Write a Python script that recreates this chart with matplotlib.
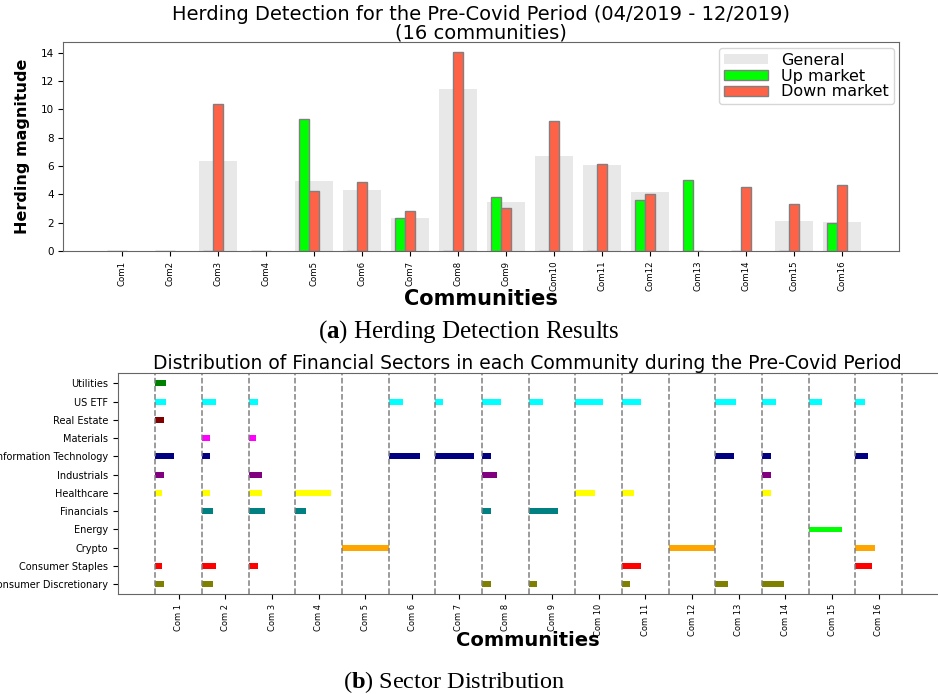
import numpy as np
import matplotlib
matplotlib.use("Agg")
import matplotlib.pyplot as plt

plt.rcParams['font.family'] = ['DejaVu Sans']
plt.rcParams['mathtext.fontset'] = 'custom'
plt.rcParams['mathtext.rm'] = 'Liberation Serif'
plt.rcParams['mathtext.bf'] = 'Liberation Serif:bold'

# ---- (a) herding magnitudes per community ----
communities = ['Com%d' % i for i in range(1, 17)]
general = [0, 0, 6.34, 0, 4.98, 4.30, 2.35, 11.46, 3.43, 6.71, 6.10, 4.20, 0, 0, 2.09, 2.02]
up_market = [0, 0, 0, 0, 9.32, 0, 2.30, 0, 3.83, 0, 0, 3.61, 5.02, 0, 0, 1.95]
down_market = [0, 0, 10.42, 0, 4.23, 4.91, 2.82, 14.04, 3.05, 9.20, 6.15, 4.06, 0, 4.55, 3.33, 4.69]

# ---- (b) sector share per community (Com 1 .. Com 16) ----
sectors = ['Consumer Discretionary', 'Consumer Staples', 'Crypto', 'Energy', 'Financials',
           'Healthcare', 'Industrials', 'Information Technology', 'Materials', 'Real Estate',
           'US ETF', 'Utilities']
sector_colors = ['olive', 'red', 'orange', 'lime', 'teal', 'yellow', 'purple', 'navy',
                 'magenta', 'maroon', 'cyan', 'green']

cons_disc = [0.19, 0.24, 0, 0, 0, 0, 0, 0.20, 0.18, 0, 0.16, 0, 0.28, 0.46, 0, 0]
cons_staples = [0.15, 0.29, 0.20, 0, 0, 0, 0, 0, 0, 0, 0.41, 0, 0, 0, 0, 0.35]
crypto = [0, 0, 0, 0, 1.0, 0, 0, 0, 0, 0, 0, 1.0, 0, 0, 0, 0.42]
energy = [0, 0, 0, 0, 0, 0, 0, 0, 0, 0, 0, 0, 0, 0, 0.71, 0]
financials = [0, 0.24, 0.34, 0.22, 0, 0, 0, 0.20, 0.63, 0, 0, 0, 0, 0, 0, 0]
healthcare = [0.15, 0.18, 0.29, 0.76, 0, 0, 0, 0, 0, 0.41, 0.26, 0, 0, 0.20, 0, 0]
industrials = [0.19, 0, 0.29, 0, 0, 0, 0, 0.33, 0, 0, 0, 0, 0, 0.20, 0, 0]
info_tech = [0.39, 0.18, 0, 0, 0, 0.68, 0.82, 0.19, 0, 0, 0, 0, 0.40, 0.20, 0, 0.27]
materials = [0, 0.18, 0.16, 0, 0, 0, 0, 0, 0, 0, 0, 0, 0, 0, 0, 0]
real_estate = [0.19, 0, 0, 0, 0, 0, 0, 0, 0, 0, 0, 0, 0, 0, 0, 0]
us_etf = [0.22, 0.29, 0.20, 0, 0, 0.31, 0.17, 0.41, 0.31, 0.59, 0.41, 0, 0.44, 0.29, 0.28, 0.20]
utilities = [0.22, 0, 0, 0, 0, 0, 0, 0, 0, 0, 0, 0, 0, 0, 0, 0]

sector_values = [cons_disc, cons_staples, crypto, energy, financials, healthcare,
                 industrials, info_tech, materials, real_estate, us_etf, utilities]
com_labels = ['Com %d' % i for i in range(1, 17)]

fig = plt.figure(figsize=(9.38, 6.94), dpi=100)

# Plot (a): herding detection
ax1 = fig.add_axes([0.0675, 0.6383, 0.8913, 0.3007])
x = np.arange(len(communities))
ax1.bar(x, general, 0.8, color='lightgray', alpha=0.5, label='General')
ax1.bar(x - 0.2, up_market, 0.2, color='lime', edgecolor='grey', label='Up market')
ax1.bar(x, down_market, 0.2, color='tomato', edgecolor='grey', label='Down market')
ax1.set_xlim(-1.22, 16.2)
ax1.set_xticks(x)
ax1.set_xticklabels(communities, rotation=90, fontsize=6.2)
ax1.tick_params(axis='y', labelsize=7.5)
ax1.set_ylabel('Herding magnitude', fontsize=11.5, fontweight='bold')
ax1.yaxis.set_label_coords(-0.04, 0.5)
ax1.set_xlabel('Communities', fontsize=15, fontweight='bold')
ax1.xaxis.set_label_coords(0.5, -0.18)
ax1.set_title('Herding Detection for the Pre-Covid Period (04/2019 - 12/2019)\n(16 communities)',
              fontsize=14, pad=3, linespacing=0.95)
ax1.legend(loc='upper right', fontsize=11.5, handlelength=2.8, labelspacing=0.05,
           borderpad=0.3, handleheight=0.6, borderaxespad=0.35)
for s in ax1.spines.values():
    s.set_color('#666666')

# Plot (b): sector distribution
ax2 = fig.add_axes([0.1255, 0.1437, 0.8745, 0.3184])
for row, (vals, col) in enumerate(zip(sector_values, sector_colors)):
    for i, v in enumerate(vals):
        if v > 0:
            ax2.barh(row, v, height=0.32, left=i + 0.5, color=col)
for i in range(17):
    ax2.axvline(i + 0.5, color='grey', linestyle='--', linewidth=1.1)
ax2.set_yticks(range(len(sectors)))
ax2.set_yticklabels(sectors, fontsize=7)
ax2.set_xticks(range(1, 17))
ax2.set_xticklabels(com_labels, rotation=90, fontsize=6)
ax2.set_xlim(-0.306, 17.27)
ax2.set_ylim(-0.55, 11.55)
ax2.set_xlabel('Communities', fontsize=14, fontweight='bold')
ax2.xaxis.set_label_coords(0.5, -0.168)
ax2.set_title('Distribution of Financial Sectors in each Community during the Pre-Covid Period',
              fontsize=13.5, pad=3)
ax2.spines['right'].set_visible(False)
for s in ax2.spines.values():
    s.set_color('#666666')

# captions
fig.text(0.5, 0.513, r'($\mathbf{a}$) Herding Detection Results', ha='center', va='baseline',
         fontsize=18, family='Liberation Serif')
fig.text(0.484, 0.008, r'($\mathbf{b}$) Sector Distribution', ha='center', va='baseline',
         fontsize=17.5, family='Liberation Serif')

fig.savefig('out.png', dpi=100)
